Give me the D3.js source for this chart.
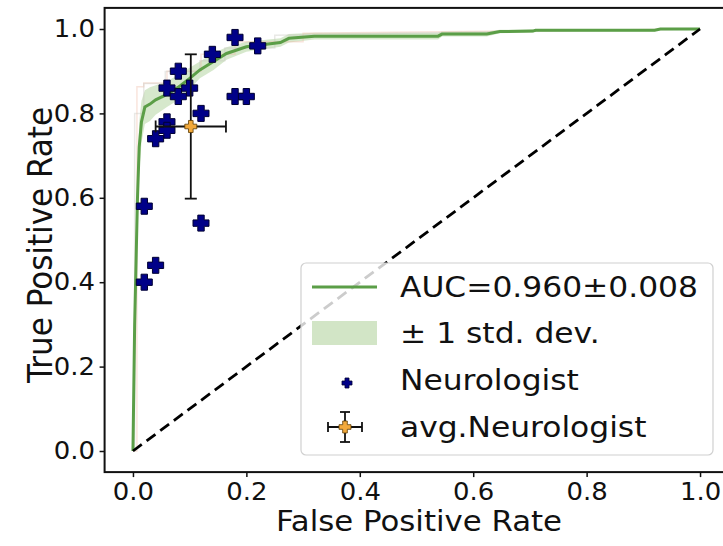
<!DOCTYPE html>
<html>
<head>
<meta charset="utf-8">
<script src="https://cdn.jsdelivr.net/npm/d3@7"></script>
<style>
  body { margin: 0; background: #fff; }
  text { font-family: "DejaVu Sans", sans-serif; fill: #111; }
</style>
</head>
<body>
<script>
var width = 723,
    height = 546;

// mean ROC curve of the model
var fprGrid = [0.000, 0.003, 0.008, 0.011, 0.015, 0.021, 0.030, 0.040, 0.060, 0.083,
               0.100, 0.118, 0.142, 0.165, 0.200, 0.260, 0.275, 0.320, 0.538, 0.545,
               0.624, 0.647, 0.705, 0.710, 0.920, 0.930, 1.000];
var tprMean = [0.000, 0.300, 0.600, 0.720, 0.780, 0.815, 0.822, 0.832, 0.845, 0.865,
               0.883, 0.903, 0.923, 0.942, 0.958, 0.968, 0.978, 0.983, 0.983, 0.988,
               0.988, 0.994, 0.995, 0.997, 0.997, 1.000, 1.000];
var tprStd  = [0.000, 0.080, 0.070, 0.060, 0.050, 0.040, 0.040, 0.035, 0.030, 0.030,
               0.025, 0.020, 0.020, 0.015, 0.012, 0.010, 0.010, 0.008, 0.008, 0.006,
               0.006, 0.004, 0.004, 0.003, 0.003, 0.000, 0.000];

// two of the faint single-fold curves
var foldAFpr = [0.000, 0.007, 0.007, 0.019, 0.019, 0.060, 0.060, 0.120, 0.120, 0.180, 0.180, 0.300, 0.300, 1.000];
var foldATpr = [0.000, 0.000, 0.863, 0.863, 0.872, 0.872, 0.900, 0.900, 0.940, 0.940, 0.970, 0.970, 0.990, 1.000];
var foldBFpr = [0.000, 0.003, 0.003, 0.019, 0.019, 0.057, 0.057, 0.118, 0.118, 0.162, 0.162, 0.250, 0.250, 1.000];
var foldBTpr = [0.000, 0.000, 0.800, 0.800, 0.871, 0.871, 0.899, 0.899, 0.925, 0.925, 0.955, 0.955, 0.985, 1.000];

// individual neurologists
var neuroFpr = [0.18, 0.22, 0.14, 0.08, 0.06, 0.10, 0.08, 0.18, 0.20, 0.12, 0.06, 0.06, 0.04, 0.02, 0.12, 0.04, 0.02];
var neuroTpr = [0.98, 0.96, 0.94, 0.90, 0.86, 0.86, 0.84, 0.84, 0.84, 0.80, 0.78, 0.76, 0.74, 0.58, 0.54, 0.44, 0.40];

// average neurologist with its spread
var avgFpr = 0.102, avgFprErr = 0.062;
var avgTpr = 0.769, avgTprErr = 0.171;

var xTicks = [0.0, 0.2, 0.4, 0.6, 0.8, 1.0];
var yTicks = [0.0, 0.2, 0.4, 0.6, 0.8, 1.0];
var legendLabels = ['AUC=0.960\u00b10.008', '\u00b1 1 std. dev.', 'Neurologist', 'avg.Neurologist'];

var lineColor = '#5b9e47',
    bandColor = '#d2e5c6',
    dotColor = '#000088',
    avgColor = '#f2a93b';

var stretch = 'scale(1.08,1)';

var svg = d3.select('body').append('svg')
    .attr('width', width)
    .attr('height', height);

var x = d3.scaleLinear().domain([-0.05, 1.05]).range([104.6, 728.4]);
var y = d3.scaleLinear().domain([-0.05, 1.05]).range([472.1, 7.9]);

var roc = fprGrid.map(function (f, i) {
    return {f: f, m: tprMean[i], s: tprStd[i]};
});

// std band
svg.append('path')
    .datum(roc)
    .attr('fill', bandColor)
    .attr('opacity', 0.9)
    .attr('d', d3.area()
        .x(function (d) { return x(d.f); })
        .y0(function (d) { return y(Math.max(0, d.m - d.s)); })
        .y1(function (d) { return y(Math.min(1, d.m + d.s)); }));

// faint folds
function foldLine(fs, ts, col) {
    svg.append('path')
        .datum(fs.map(function (f, i) { return [f, ts[i]]; }))
        .attr('fill', 'none')
        .attr('stroke', col)
        .attr('stroke-width', 1.5)
        .attr('opacity', 0.4)
        .attr('d', d3.line()
            .x(function (d) { return x(d[0]); })
            .y(function (d) { return y(d[1]); }));
}
foldLine(foldAFpr, foldATpr, '#eebba8');
foldLine(foldBFpr, foldBTpr, '#c8c8c0');

// mean curve
svg.append('path')
    .datum(roc)
    .attr('fill', 'none')
    .attr('stroke', lineColor)
    .attr('stroke-width', 3)
    .attr('d', d3.line()
        .x(function (d) { return x(d.f); })
        .y(function (d) { return y(d.m); }));

// chance diagonal
svg.append('line')
    .attr('x1', x(0)).attr('y1', y(0))
    .attr('x2', x(1)).attr('y2', y(1))
    .attr('stroke', '#000')
    .attr('stroke-width', 2.8)
    .attr('stroke-dasharray', '11,6');

function plusPath(cx, cy, r, t) {
    return 'M' + (cx - t) + ',' + (cy - r) +
        'H' + (cx + t) + 'V' + (cy - t) + 'H' + (cx + r) + 'V' + (cy + t) +
        'H' + (cx + t) + 'V' + (cy + r) + 'H' + (cx - t) + 'V' + (cy + t) +
        'H' + (cx - r) + 'V' + (cy - t) + 'H' + (cx - t) + 'Z';
}

// neurologists
svg.append('g').selectAll('path')
    .data(neuroFpr.map(function (f, i) { return [f, neuroTpr[i]]; }))
    .enter().append('path')
    .attr('d', function (d) { return plusPath(x(d[0]), y(d[1]), 8, 3.2); })
    .attr('fill', dotColor)
    .attr('stroke', '#000033')
    .attr('stroke-width', 1);

// average neurologist with error bars
function errorMarker(g, cx, cy, x0, x1, y0, y1, cap, r, t) {
    var eb = g.append('g').attr('stroke', '#111').attr('stroke-width', 1.8);
    eb.append('line').attr('x1', x0).attr('x2', x1).attr('y1', cy).attr('y2', cy);
    eb.append('line').attr('x1', cx).attr('x2', cx).attr('y1', y0).attr('y2', y1);
    eb.append('line').attr('x1', x0).attr('x2', x0).attr('y1', cy - cap).attr('y2', cy + cap);
    eb.append('line').attr('x1', x1).attr('x2', x1).attr('y1', cy - cap).attr('y2', cy + cap);
    eb.append('line').attr('x1', cx - cap).attr('x2', cx + cap).attr('y1', y0).attr('y2', y0);
    eb.append('line').attr('x1', cx - cap).attr('x2', cx + cap).attr('y1', y1).attr('y2', y1);
    g.append('path')
        .attr('d', plusPath(cx, cy, r, t))
        .attr('fill', avgColor)
        .attr('stroke', '#5a3a00')
        .attr('stroke-width', 0.8);
}
errorMarker(svg.append('g'),
    x(avgFpr), y(avgTpr),
    x(avgFpr - avgFprErr), x(avgFpr + avgFprErr),
    y(avgTpr + avgTprErr), y(avgTpr - avgTprErr),
    6, 6, 2.3);

// legend
var legend = svg.append('g');
legend.append('rect')
    .attr('x', 301).attr('y', 263)
    .attr('width', 412).attr('height', 192)
    .attr('rx', 5)
    .attr('fill', '#fff')
    .attr('fill-opacity', 0.8)
    .attr('stroke', '#d0d0d0')
    .attr('stroke-width', 1.2);
var rowY = [287, 333, 380, 427];
legend.append('line')
    .attr('x1', 312).attr('x2', 377)
    .attr('y1', rowY[0]).attr('y2', rowY[0])
    .attr('stroke', lineColor).attr('stroke-width', 3);
legend.append('rect')
    .attr('x', 312).attr('y', rowY[1] - 12)
    .attr('width', 65).attr('height', 24)
    .attr('fill', bandColor);
legend.append('path')
    .attr('d', plusPath(347, rowY[2] + 3, 5, 2))
    .attr('fill', dotColor)
    .attr('stroke', '#000033')
    .attr('stroke-width', 0.8);
errorMarker(legend.append('g'), 345, rowY[3], 328, 362, rowY[3] - 15, rowY[3] + 15, 5, 6, 2.3);
legend.selectAll('text.lab')
    .data(legendLabels)
    .enter().append('text')
    .attr('class', 'lab')
    .attr('transform', function (d, i) { return 'translate(400,' + (rowY[i] + 10) + ') ' + stretch; })
    .attr('font-size', 29)
    .text(function (d) { return d; });

// frame
svg.append('rect')
    .attr('x', x(-0.05)).attr('y', y(1.05))
    .attr('width', x(1.05) - x(-0.05))
    .attr('height', y(-0.05) - y(1.05))
    .attr('fill', 'none')
    .attr('stroke', '#111')
    .attr('stroke-width', 2);

// axes
var xAxis = svg.append('g')
    .attr('transform', 'translate(0,' + y(-0.05) + ')')
    .call(d3.axisBottom(x).tickValues(xTicks).tickFormat(d3.format('.1f')).tickSize(5).tickPadding(6));
var yAxis = svg.append('g')
    .attr('transform', 'translate(' + x(-0.05) + ',0)')
    .call(d3.axisLeft(y).tickValues(yTicks).tickFormat(d3.format('.1f')).tickSize(5).tickPadding(4));
[xAxis, yAxis].forEach(function (a) {
    a.select('.domain').remove();
    a.selectAll('line').attr('stroke', '#111').attr('stroke-width', 1.5);
    a.selectAll('text')
        .attr('font-size', 24)
        .attr('font-family', '"DejaVu Sans", sans-serif')
        .attr('fill', '#111')
        .attr('transform', stretch);
});

svg.append('text')
    .attr('transform', 'translate(419,531) ' + stretch)
    .attr('text-anchor', 'middle')
    .attr('font-size', 28.5)
    .text('False Positive Rate');

svg.append('text')
    .attr('transform', 'translate(52,245) ' + stretch + ' rotate(-90)')
    .attr('text-anchor', 'middle')
    .attr('font-size', 31)
    .text('True Positive Rate');
</script>
</body>
</html>
